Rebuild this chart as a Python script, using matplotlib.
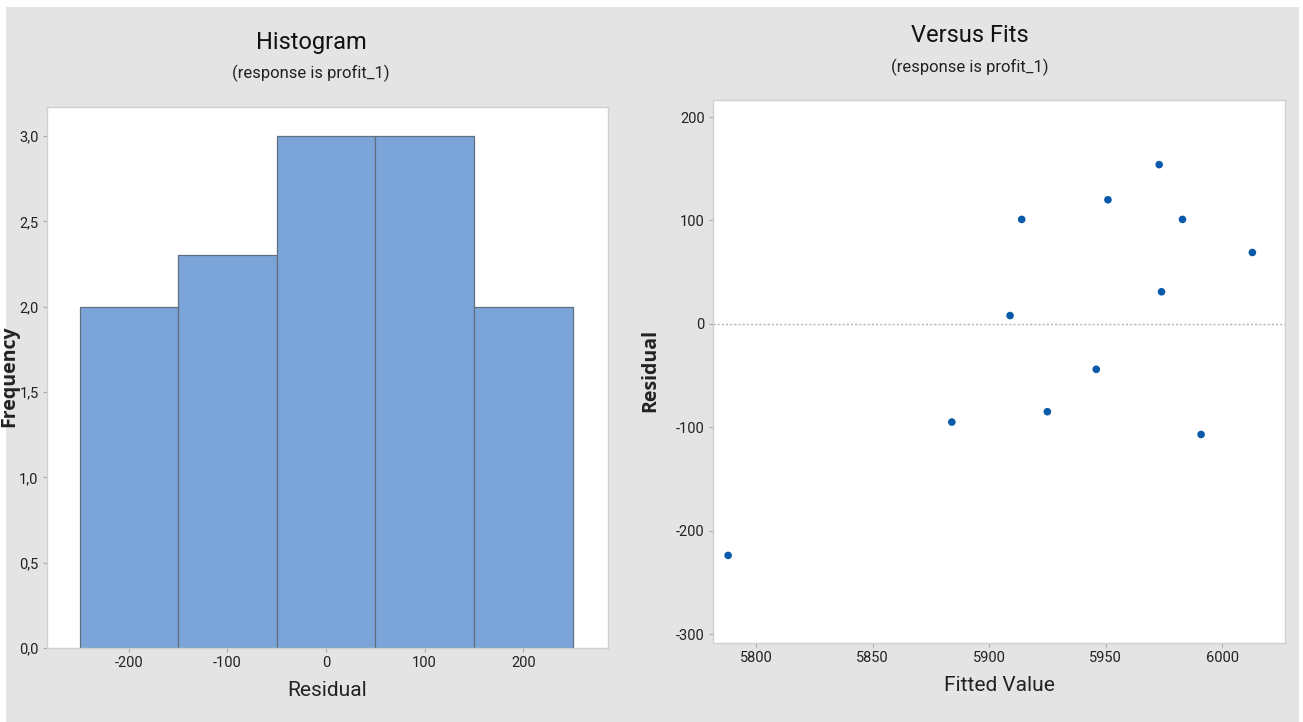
import matplotlib
matplotlib.use("Agg")
import matplotlib.pyplot as plt
from matplotlib.patches import Rectangle

# Histogram data
bin_centers = [-200, -100, 0, 100, 200]
frequencies = [2.0, 2.3, 3.0, 3.0, 2.0]
hist_xticks = [-200, -100, 0, 100, 200]
hist_yticks = [0.0, 0.5, 1.0, 1.5, 2.0, 2.5, 3.0]

# Versus fits data
fitted = [5788, 5884, 5909, 5914, 5925, 5946, 5951, 5973, 5974, 5983, 5991, 6013]
residuals = [-224, -95, 8, 101, -85, -44, 120, 154, 31, 101, -107, 69]
fit_xticks = [5800, 5850, 5900, 5950, 6000]
fit_yticks = [-300, -200, -100, 0, 100, 200]

W, H = 1303, 722
BG = "#e4e4e4"
fig = plt.figure(figsize=(W / 100, H / 100), dpi=100, facecolor=BG)

cond = ["Roboto", "DejaVu Sans"]
label_font = ["Open Sans", "DejaVu Sans"]

# white frame strips at the image edges
fig.patches.append(Rectangle((0, 0), 6 / W, 1, transform=fig.transFigure,
                             facecolor="white", edgecolor="none", zorder=0))
fig.patches.append(Rectangle((0, 1 - 7 / H), 1, 7 / H, transform=fig.transFigure,
                             facecolor="white", edgecolor="none", zorder=0))
fig.patches.append(Rectangle((1 - 4 / W, 0), 4 / W, 1, transform=fig.transFigure,
                             facecolor="white", edgecolor="none", zorder=0))

def px_axes(x0, y0, x1, y1):
    return fig.add_axes([x0 / W, 1 - y1 / H, (x1 - x0) / W, (y1 - y0) / H])

def style(ax):
    ax.set_facecolor("white")
    for s in ax.spines.values():
        s.set_color("#d0d0d0")
        s.set_linewidth(1.0)
    ax.tick_params(axis="both", colors="#a8a8a8", length=3, width=0.8,
                   labelcolor="#222222", labelsize=10.5, pad=3)
    for lab in ax.get_xticklabels() + ax.get_yticklabels():
        lab.set_family(cond)

# Left: histogram
ax1 = px_axes(47, 107, 608, 648)
ax1.bar(bin_centers, frequencies, width=100, align="center",
        color="#7ba5d8", edgecolor="#5f6f80", linewidth=0.9, zorder=2)
ax1.set_xlim(-283, 286)
ax1.set_ylim(0, 3.17)
ax1.set_xticks(hist_xticks)
ax1.set_xticklabels([str(v) for v in hist_xticks])
ax1.set_yticks(hist_yticks)
ax1.set_yticklabels([f"{v:.1f}".replace(".", ",") for v in hist_yticks])
style(ax1)
ax1.set_xlabel("Residual", fontsize=15, family=cond, color="#222222", labelpad=8)
fig.text(9 / W, 1 - 376 / H, "Frequency", rotation=90, ha="center", va="center",
         fontsize=14, family=label_font, fontweight="bold", color="#222222")

# Right: versus fits
ax2 = px_axes(713, 100, 1285, 643)
ax2.axhline(0, color="#b5b5b5", linestyle=(0, (1.5, 1.5)), linewidth=1.0, zorder=1)
ax2.scatter(fitted, residuals, s=30, color="#0a5aaa", edgecolors="none", zorder=3)
ax2.set_xlim(5781.5, 6027)
ax2.set_ylim(-308.7, 216.5)
ax2.set_xticks(fit_xticks)
ax2.set_xticklabels([str(v) for v in fit_xticks])
ax2.set_yticks(fit_yticks)
ax2.set_yticklabels([str(v) for v in fit_yticks])
style(ax2)
ax2.set_xlabel("Fitted Value", fontsize=15, family=cond, color="#222222", labelpad=8)
fig.text(650 / W, 1 - 370 / H, "Residual", rotation=90, ha="center", va="center",
         fontsize=14, family=label_font, fontweight="bold", color="#222222")

# Titles
fig.text(311 / W, 1 - 42 / H, "Histogram", ha="center", va="center",
         fontsize=17, family=cond, color="#111111")
fig.text(311 / W, 1 - 73 / H, "(response is profit_1)", ha="center", va="center",
         fontsize=12, family=cond, color="#222222")
fig.text(970 / W, 1 - 35 / H, "Versus Fits", ha="center", va="center",
         fontsize=17, family=cond, color="#111111")
fig.text(970 / W, 1 - 67 / H, "(response is profit_1)", ha="center", va="center",
         fontsize=12, family=cond, color="#222222")

fig.savefig("out.png", dpi=100, facecolor=BG)
